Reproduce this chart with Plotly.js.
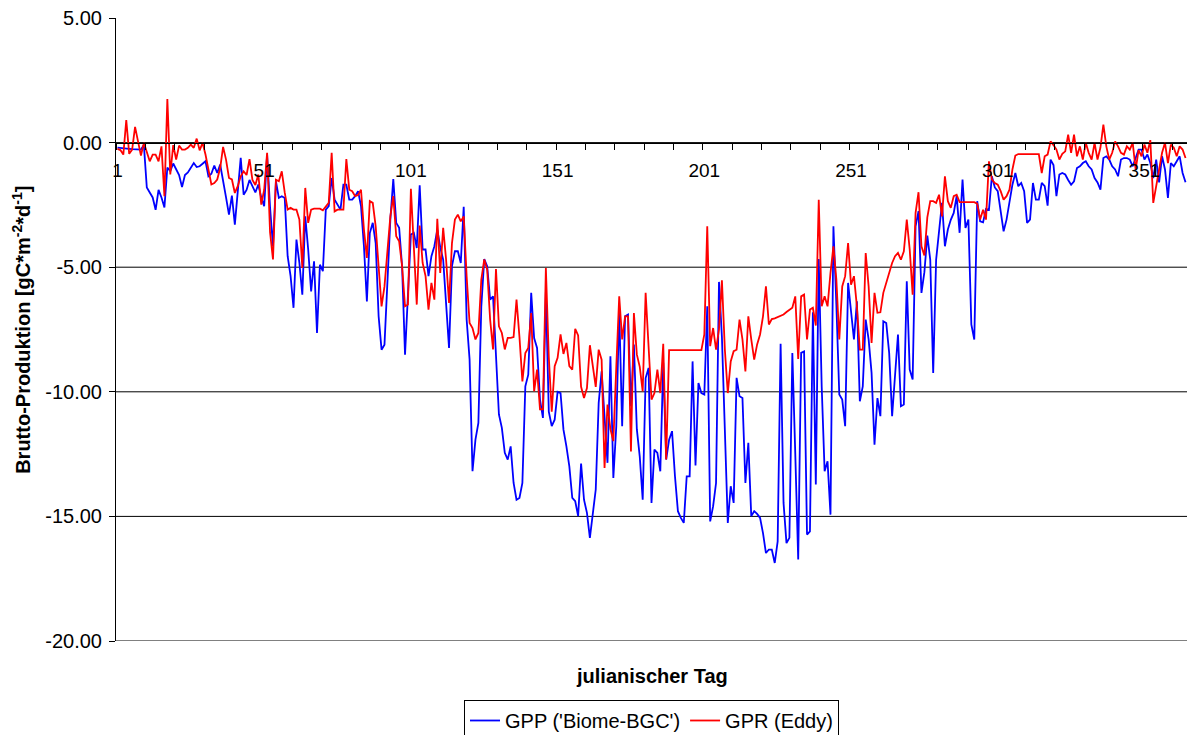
<!DOCTYPE html>
<html>
<head>
<meta charset="utf-8">
<script src="https://cdn.plot.ly/plotly-3.0.1.min.js"></script>
<style>
html,body{margin:0;padding:0;background:#fff;overflow:hidden;}
#chart{width:1187px;height:735px;}
</style>
</head>
<body>
<div id="chart"></div>
<script>
// Julian day categories 1..365
const days = Array.from({length: 365}, (_, i) => i + 1);

// GPP ('Biome-BGC') — blue series, gC m-2 d-1
const gppBiomeBGC = [
-0.20,-0.22,-0.24,-0.25,-0.25,-0.26,-0.27,-0.27,-0.28,-0.10,
-1.80,-2.00,-2.20,-2.70,-1.90,-2.20,-2.60,-1.00,-1.15,-0.84,
-1.05,-1.30,-1.78,-1.30,-1.20,-1.00,-0.82,-0.98,-0.95,-0.85,
-0.75,-1.35,-1.25,-0.92,-1.22,-0.88,-1.62,-2.20,-2.89,-2.13,
-3.29,-1.80,-0.61,-2.09,-1.90,-1.50,-1.75,-2.00,-1.68,-2.20,
-2.55,-0.48,-2.60,-4.16,-1.55,-2.22,-2.15,-2.22,-4.56,-5.36,
-6.63,-3.89,-4.83,-6.10,-2.96,-4.29,-5.97,-4.76,-7.64,-4.90,
-5.16,-2.69,-2.55,-1.42,-2.29,-2.49,-2.69,-1.69,-1.69,-2.29,
-2.29,-2.15,-1.95,-2.55,-4.16,-6.37,-3.63,-3.22,-4.03,-6.97,
-8.31,-8.11,-5.80,-3.09,-1.46,-3.22,-3.42,-4.96,-8.51,-6.03,
-3.69,-3.62,-4.23,-1.71,-4.29,-4.29,-5.36,-4.56,-4.16,-3.49,
-4.20,-4.70,-6.57,-8.24,-4.96,-4.36,-4.36,-4.83,-2.58,-7.10,
-8.70,-13.19,-11.92,-11.25,-6.57,-4.67,-4.96,-6.30,-6.17,-8.44,
-10.91,-11.45,-12.45,-12.72,-12.19,-13.66,-14.33,-14.26,-13.66,-9.78,
-9.31,-6.03,-7.84,-8.24,-10.31,-11.05,-6.00,-10.80,-11.38,-11.12,
-10.00,-10.05,-11.52,-12.19,-12.99,-14.26,-14.39,-14.99,-12.88,-14.33,
-14.86,-15.86,-14.99,-13.92,-10.45,-9.18,-11.00,-12.85,-8.57,-13.46,
-11.38,-6.70,-11.38,-6.97,-6.90,-10.58,-8.10,-11.50,-12.60,-14.33,
-9.45,-9.04,-14.46,-12.32,-12.45,-13.19,-8.84,-12.72,-11.92,-11.58,
-13.39,-14.79,-15.06,-15.26,-13.39,-13.39,-8.78,-12.96,-9.65,-10.05,
-10.11,-6.57,-15.20,-14.59,-13.66,-5.59,-7.80,-11.50,-15.26,-13.79,
-14.46,-9.44,-10.18,-10.25,-13.66,-12.05,-14.99,-14.79,-14.90,-15.06,
-15.67,-16.47,-16.33,-16.33,-16.87,-16.00,-8.07,-14.46,-16.07,-15.86,
-8.44,-12.50,-16.73,-8.44,-8.38,-15.73,-15.60,-6.81,-13.72,-4.67,
-9.78,-13.19,-12.79,-14.93,-3.36,-6.50,-10.11,-10.31,-11.38,-5.63,
-6.80,-7.90,-6.37,-10.38,-9.78,-7.10,-7.90,-9.24,-12.12,-10.25,
-10.98,-7.17,-7.24,-8.44,-10.98,-9.38,-7.70,-10.58,-10.51,-5.56,
-9.11,-9.51,-3.36,-2.75,-6.03,-5.20,-3.73,-4.70,-9.24,-4.70,
-3.49,-2.42,-4.16,-3.49,-3.10,-2.82,-2.15,-3.62,-1.48,-3.42,
-3.09,-7.30,-7.90,-2.35,-3.16,-3.20,-2.66,-2.70,-1.35,-1.80,
-1.95,-2.69,-3.56,-3.09,-2.29,-1.69,-1.22,-1.75,-1.62,-1.95,
-3.22,-3.09,-1.62,-2.29,-2.29,-1.62,-1.75,-2.53,-0.68,-0.90,
-2.15,-1.28,-1.22,-1.28,-1.50,-1.69,-1.55,-1.02,-0.95,-0.82,
-0.75,-0.95,-1.08,-1.42,-1.60,-1.89,-0.62,-0.55,-0.68,-0.95,
-1.08,-1.35,-0.68,-0.62,-0.62,-0.68,-0.95,-0.62,-0.28,-0.28,
-0.68,-0.48,-0.82,-1.42,-0.68,-1.60,-0.55,-1.08,-2.22,-0.82,
-0.95,-0.75,-0.55,-1.22,-1.59
];

// GPR (Eddy) — red series, gC m-2 d-1
const gprEddy = [
-0.25,-0.30,-0.48,0.90,-0.45,-0.28,0.63,-0.01,-0.52,-0.01,
-0.35,-0.75,-0.48,-0.48,-0.75,-0.15,-2.15,1.75,-1.28,-0.10,
-0.68,-0.12,-0.28,-0.28,-0.21,-0.08,-0.21,0.16,-0.31,-0.01,
-0.48,-1.08,-1.68,-1.62,-1.48,-1.02,-0.17,-0.68,-1.42,-1.48,
-2.02,-1.75,-1.35,-1.15,-1.30,-0.66,-1.50,-1.70,-1.28,-2.49,
-1.89,-0.41,-3.60,-4.69,-1.49,-1.55,-1.15,-2.00,-2.69,-2.62,
-2.69,-2.69,-3.09,-5.03,-1.82,-3.22,-2.69,-2.65,-2.65,-2.65,
-2.72,-2.55,-2.42,-0.41,-2.76,-2.69,-2.69,-2.69,-0.66,-1.89,
-1.95,-2.15,-2.10,-1.89,-3.49,-4.63,-2.35,-2.42,-3.36,-4.96,
-6.57,-5.77,-4.16,-2.96,-2.15,-3.76,-3.96,-4.96,-6.57,-6.50,
-1.85,-4.43,-6.50,-3.33,-4.83,-5.36,-6.70,-5.63,-6.30,-3.06,
-5.23,-3.42,-4.70,-6.43,-4.03,-3.09,-2.89,-3.16,-2.96,-5.36,
-7.24,-7.44,-7.90,-7.64,-5.50,-4.69,-5.10,-7.10,-8.30,-5.07,
-7.37,-7.64,-8.30,-7.84,-7.84,-7.80,-6.30,-7.80,-9.58,-8.44,
-8.24,-6.84,-9.98,-9.11,-10.70,-10.70,-5.03,-8.60,-10.80,-8.97,
-8.64,-7.70,-8.48,-8.04,-8.97,-9.11,-7.47,-7.74,-9.80,-10.25,
-9.85,-8.13,-9.00,-9.80,-8.31,-8.71,-13.06,-10.51,-11.50,-11.98,
-9.00,-6.17,-7.90,-6.97,-6.97,-12.39,-6.84,-8.50,-9.00,-9.98,
-6.03,-8.00,-10.31,-10.05,-9.11,-10.05,-8.07,-12.72,-8.33,-8.33,
-8.33,-8.33,-8.33,-8.33,-8.33,-8.33,-8.33,-8.33,-8.33,-8.33,
-7.70,-3.36,-8.17,-7.44,-8.31,-7.50,-5.53,-8.31,-10.05,-8.78,
-8.37,-8.31,-7.10,-7.90,-9.18,-6.97,-7.90,-8.71,-8.10,-7.70,
-6.97,-5.77,-7.30,-7.08,-7.05,-7.00,-6.95,-6.90,-6.80,-6.70,
-6.63,-6.17,-8.68,-6.17,-6.10,-7.90,-6.70,-6.63,-7.34,-2.29,
-6.57,-6.17,-6.57,-5.23,-4.16,-5.50,-7.90,-5.77,-5.36,-4.03,
-5.70,-5.36,-6.57,-8.31,-8.31,-4.43,-5.77,-8.04,-6.03,-6.83,
-6.81,-6.03,-5.63,-5.20,-4.83,-4.56,-4.43,-4.70,-4.36,-3.09,
-4.29,-6.10,-2.82,-1.99,-4.16,-4.53,-3.00,-2.35,-2.35,-2.42,
-2.09,-2.96,-1.35,-2.35,-2.62,-2.15,-2.09,-2.39,-2.39,-2.39,
-2.39,-2.39,-2.39,-2.45,-3.09,-2.69,-3.09,-0.75,-1.48,-1.62,
-1.69,-1.95,-2.29,-2.15,-1.89,-1.08,-0.52,-0.46,-0.46,-0.46,
-0.46,-0.46,-0.46,-0.46,-0.46,-1.22,-0.55,-0.48,0.05,-0.10,
-0.28,-0.68,-0.45,-0.35,0.32,-0.41,0.32,-0.55,-0.15,-0.68,
-0.01,-0.41,-0.68,-0.01,-0.68,-0.20,0.72,-0.15,-0.68,-0.41,
0.05,-0.15,-0.41,-0.48,-0.15,-0.28,-0.01,-1.08,-0.30,-0.55,
-0.08,-0.41,0.10,-2.42,-1.75,-1.22,-0.41,-0.01,-0.82,-0.08,
-0.21,-0.55,-0.15,-0.28,-0.62
];

// Tick labels
const xTickVals = [1, 51, 101, 151, 201, 251, 301, 351];
const xTickText = ["1", "51", "101", "151", "201", "251", "301", "351"];
const yTickVals = [5, 0, -5, -10, -15, -20];
const yTickText = ["5.00", "0.00", "-5.00", "-10.00", "-15.00", "-20.00"];
const gridVals = [0, -5, -10, -15, -20];

const seriesNames = ["GPP ('Biome-BGC')", "GPR (Eddy)"];
const FONT = "'Liberation Sans', Arial, Helvetica, sans-serif";

const traces = [
  {x: days, y: gppBiomeBGC, type: 'scatter', mode: 'lines', name: seriesNames[0],
   line: {color: '#0000FF', width: 1.8}},
  {x: days, y: gprEddy, type: 'scatter', mode: 'lines', name: seriesNames[1],
   line: {color: '#FF0000', width: 1.8}}
];

const shapes = gridVals.map(v => ({
  type: 'line', xref: 'paper', yref: 'y', x0: 0, x1: 1, y0: v, y1: v,
  line: {color: '#000000', width: 1}, layer: 'below'
}));

const layout = {
  width: 1187, height: 735,
  margin: {l: 116, r: 0, t: 18, b: 94, pad: 0, autoexpand: false},
  paper_bgcolor: '#ffffff', plot_bgcolor: '#ffffff',
  font: {family: FONT, color: '#000000', size: 20},
  showlegend: true,
  xaxis: {
    range: [0.5, 365.5], anchor: 'free', position: 0.8,
    showline: true, linecolor: '#000000', linewidth: 1,
    showgrid: false, zeroline: false,
    tickmode: 'array', tickvals: xTickVals, ticktext: xTickText,
    ticks: '', tickfont: {family: FONT, size: 19, color: '#000'},
    ticklabelstandoff: 11,
    minor: {tickmode: 'linear', tick0: 0.5, dtick: 10, ticks: 'outside',
            ticklen: 6, tickwidth: 1, tickcolor: '#000000', showgrid: false},
    fixedrange: true
  },
  yaxis: {
    range: [-20, 5], tickmode: 'array', tickvals: yTickVals, ticktext: yTickText,
    ticks: 'outside', ticklen: 6, tickwidth: 1, tickcolor: '#000000',
    showline: true, linecolor: '#000000', linewidth: 1,
    showgrid: false, zeroline: false,
    tickfont: {family: FONT, size: 20, color: '#000'},
    ticklabelstandoff: 3,
    fixedrange: true
  },
  shapes: shapes,
  legend: {
    orientation: 'h', x: 0.5, xanchor: 'center', y: -0.0947, yanchor: 'top',
    bordercolor: '#000000', borderwidth: 1, bgcolor: '#ffffff',
    font: {family: FONT, size: 20, color: '#000'}, itemwidth: 30
  },
  annotations: [
    {text: '<b>julianischer Tag</b>', xref: 'paper', yref: 'paper',
     x: 0.5, y: -0.0562, xanchor: 'center', yanchor: 'middle', showarrow: false,
     font: {family: FONT, size: 20, color: '#000'}},
    {text: '<b>Brutto-Produktion [gC*m<sup>-2</sup>*d<sup>-1</sup>]</b>',
     xref: 'paper', yref: 'paper', x: -0.0884, y: 0.5, xanchor: 'center',
     yanchor: 'middle', textangle: -90, showarrow: false,
     font: {family: FONT, size: 20, color: '#000'}}
  ]
};

Plotly.newPlot('chart', traces, layout, {staticPlot: true, displayModeBar: false});
</script>
</body>
</html>
